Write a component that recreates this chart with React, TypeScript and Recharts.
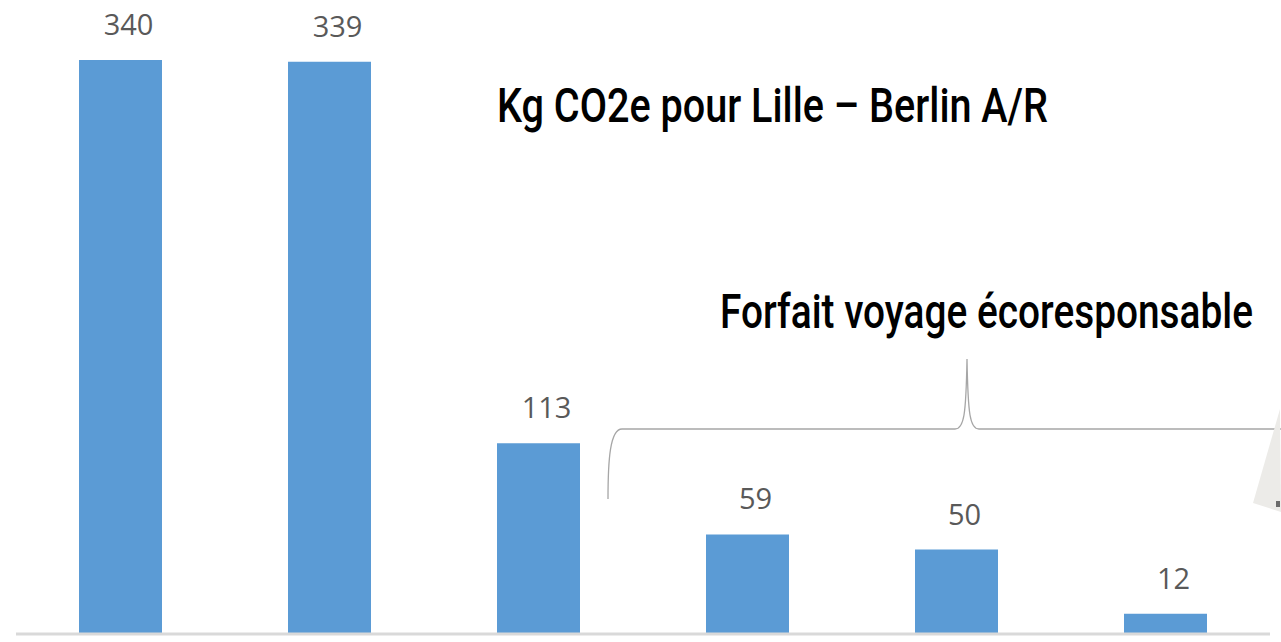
import React from "react";
import { BarChart, Bar, XAxis, YAxis, LabelList, ReferenceLine } from "recharts";

const categories = ["Mode 1", "Mode 2", "Mode 3", "Mode 4", "Mode 5", "Mode 6"];
const values = [340, 339, 113, 59, 50, 12];
const titleText = "Kg CO2e pour Lille – Berlin A/R";
const braceText = "Forfait voyage écoresponsable";

const data = categories.map((c, i) => ({ name: c, value: values[i] }));

const W = 1281;
const H = 642;
const SX = 0.72;

export default function App() {
  return (
    <div style={{ position: "absolute", left: 0, top: 0, width: W, height: H, background: "#ffffff", overflow: "hidden" }}>
      <BarChart
        width={W}
        height={H}
        data={data}
        margin={{ top: 1, right: 11, bottom: 8, left: 16 }}
        barCategoryGap="60%"
      >
        <XAxis dataKey="name" hide />
        <YAxis hide domain={[0, 375]} />
        <Bar dataKey="value" fill="#5b9bd5" barSize={83} isAnimationActive={false}>
          <LabelList
            dataKey="value"
            position="top"
            offset={25}
            dx={8}
            style={{ fill: "#595959", fontSize: 29, fontFamily: "'Open Sans', 'Noto Sans', sans-serif" }}
          />
        </Bar>
        <ReferenceLine y={0} stroke="#d9d9d9" strokeWidth={3} ifOverflow="visible" />
      </BarChart>
      <svg
        width={W}
        height={H}
        style={{ position: "absolute", left: 0, top: 0, pointerEvents: "none" }}
      >
        <g transform={`translate(497,122) scale(${SX},1)`}>
          <text
            x={0}
            y={0}
            fontSize={48}
            fontWeight={500}
            fontFamily="Roboto, 'Noto Sans', sans-serif"
            fill="#000000"
            textLength={551 / SX}
            lengthAdjust="spacingAndGlyphs"
          >
            {titleText}
          </text>
        </g>
        <g transform={`translate(720,328) scale(${SX},1)`}>
          <text
            x={0}
            y={0}
            fontSize={49}
            fontWeight={500}
            fontFamily="Roboto, 'Noto Sans', sans-serif"
            fill="#000000"
            textLength={533 / SX}
            lengthAdjust="spacingAndGlyphs"
          >
            {braceText}
          </text>
        </g>
        <path
          d="M 608 499 C 608 460 610 429 622 429 L 955 429 C 964 429 966 415 967 359 C 968 415 970 429 979 429 L 1281 429"
          fill="none"
          stroke="#a6a6a6"
          strokeWidth={1.3}
        />
        <polygon points="1280,409 1253,503 1281,512" fill="#ecebe8" />
        <rect x={1276} y={501} width={4} height={6} fill="#6b6b6b" />
      </svg>
    </div>
  );
}
